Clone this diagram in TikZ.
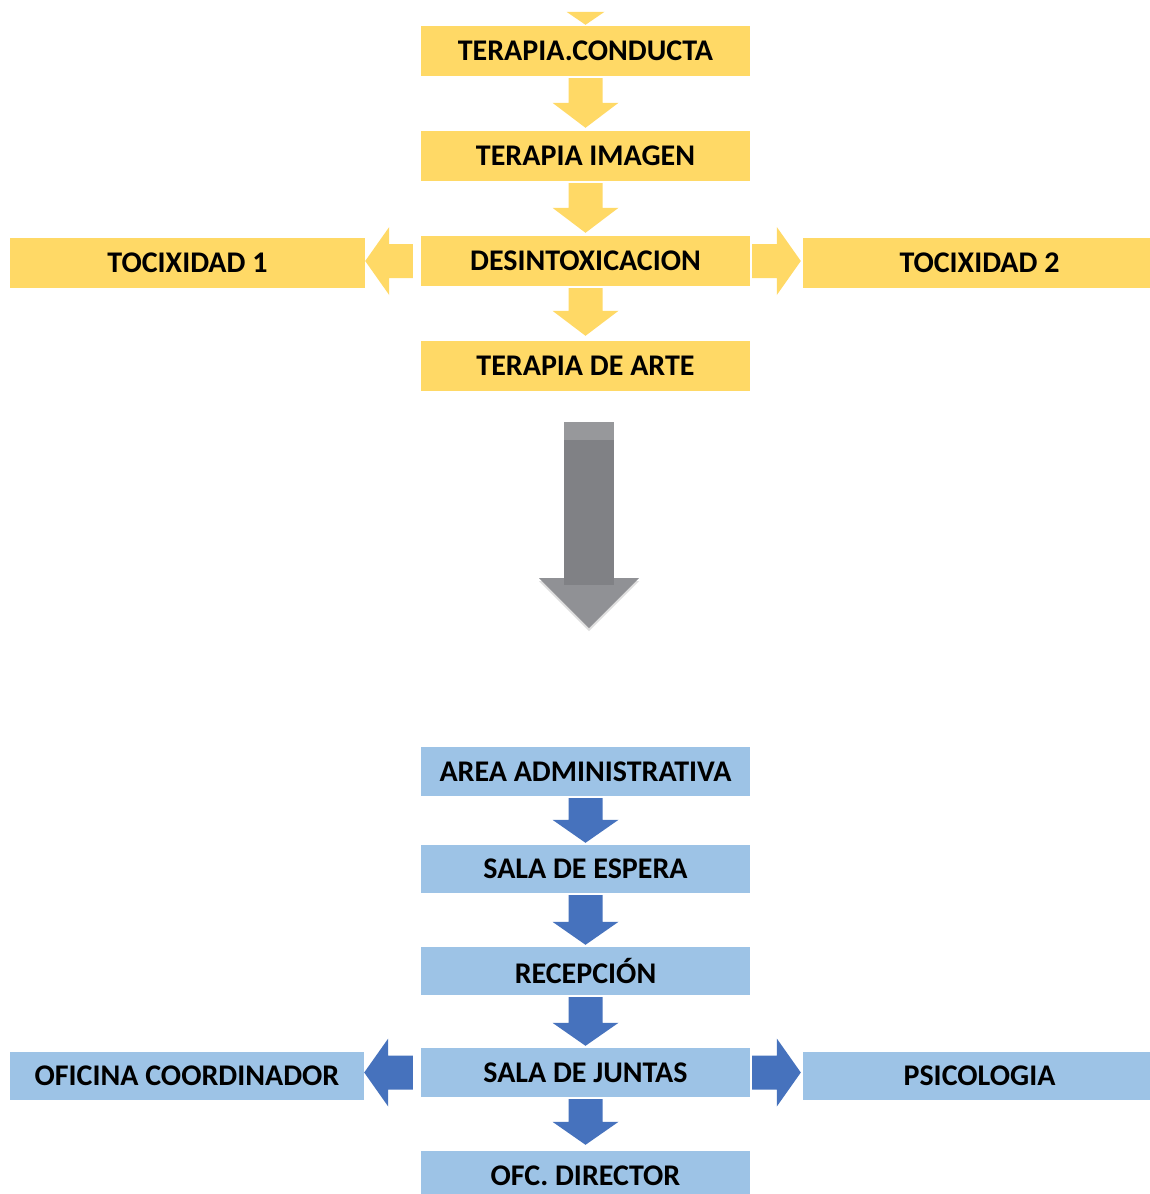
\documentclass[tikz,border=0pt]{standalone}
\usepackage{fontspec}
\setmainfont{Carlito}
\usetikzlibrary{calc,shadows}
\definecolor{ybox}{HTML}{FFD966}
\definecolor{bbox}{HTML}{9DC3E6}
\definecolor{barr}{HTML}{4672BD}
\definecolor{gshaft}{HTML}{808185}
\definecolor{gtop}{HTML}{97989B}
\definecolor{ghead}{HTML}{909195}
\tikzset{
  box/.style={rectangle, inner sep=0pt, minimum width=329pt, minimum height=50pt,
    font=\fontsize{30}{32}\selectfont\bfseries, text=black},
  ybx/.style={box, fill=ybox},
  bbx/.style={box, fill=bbox, minimum height=49pt},
}
% vertical block arrow: #1 from node, #2 to node, #3 colour, #4 head length, #5 tip gap
\newcommand\vblock[5]{%
  \fill[#3] ($(#1.south)+(-17,2)$) -- ($(#1.south)+(17,2)$) --
    ($(#2.north)+(17,-#4)$) -- ($(#2.north)+(33,-#4)$) --
    ($(#2.north)+(0,-#5)$) -- ($(#2.north)+(-33,-#4)$) --
    ($(#2.north)+(-17,-#4)$) -- cycle;}
% left block arrow from #1 (west) to #2 (east)
\newcommand\lblock[3]{%
  \fill[#3] ($(#1.west)+(-8,-17)$) -- ($(#1.west)+(-8,17)$) --
    ($(#2.east |- #1.west)+(24,17)$) -- ($(#2.east |- #1.west)+(24,34)$) --
    ($(#2.east |- #1.west)+(0,0)$) -- ($(#2.east |- #1.west)+(24,-34)$) --
    ($(#2.east |- #1.west)+(24,-17)$) -- cycle;}
% right block arrow from #1 (east) to #2 (west)
\newcommand\rblock[3]{%
  \fill[#3] ($(#1.east)+(2,-17)$) -- ($(#1.east)+(2,17)$) --
    ($(#2.west |- #1.east)+(-26,17)$) -- ($(#2.west |- #1.east)+(-26,34)$) --
    ($(#2.west |- #1.east)+(-2,0)$) -- ($(#2.west |- #1.east)+(-26,-34)$) --
    ($(#2.west |- #1.east)+(-26,-17)$) -- cycle;}
\begin{document}
\begin{tikzpicture}[x=1pt,y=-1pt]
\useasboundingbox[fill=white] (0,0) rectangle (1150,1194);
% yellow part
\node[ybx] (c1) at (585.5,51) {TERAPIA.CONDUCTA};
\node[ybx] (c2) at (585.5,156) {TERAPIA IMAGEN};
\node[ybx] (c3) at (585.5,261) {DESINTOXICACION};
\node[ybx] (c4) at (585.5,366) {TERAPIA DE ARTE};
\node[ybx, minimum width=355pt] (t1) at (187.5,263) {TOCIXIDAD 1};
\node[ybx, minimum width=347pt] (t2) at (976.5,263) {\hspace{6pt}TOCIXIDAD 2};
\fill[ybox] ($(c1.north)+(-19,-14)$) -- ($(c1.north)+(19,-14)$) -- ($(c1.north)+(0,-1)$) -- cycle;
\vblock{c1}{c2}{ybox}{28}{3}
\vblock{c2}{c3}{ybox}{28}{3}
\vblock{c3}{c4}{ybox}{30}{5}
\lblock{c3}{t1}{ybox}
\rblock{c3}{t2}{ybox}
% gray arrow
\coordinate (g) at ($(c4.south)+(3.5,0)$);
\fill[ghead, drop shadow={opacity=0.25, shadow xshift=0pt, shadow yshift=-3pt}]
  ($(g)+(-50,187)$) -- ($(g)+(50,187)$) -- ($(g)+(0,237)$) -- cycle;
\fill[gshaft] ($(g)+(-25,31)$) rectangle ($(g)+(25,194)$);
\fill[gtop] ($(g)+(-25,31)$) rectangle ($(g)+(25,49)$);
% blue part
\node[bbx] (b1) at (585.5,771.5) {AREA ADMINISTRATIVA};
\node[bbx, minimum height=48pt] (b2) at (585.5,869) {SALA DE ESPERA};
\node[bbx, minimum height=48pt] (b3) at (585.5,971) {RECEPCIÓN};
\node[bbx] (b4) at (585.5,1072.5) {SALA DE JUNTAS};
\node[bbx] (b5) at (585.5,1175.5) {OFC. DIRECTOR};
\node[bbx, minimum width=354pt, minimum height=48pt] (o1) at (187,1076) {OFICINA COORDINADOR};
\node[bbx, minimum width=347pt, minimum height=48pt] (o2) at (976.5,1076) {\hspace{6pt}PSICOLOGIA};
\vblock{b1}{b2}{barr}{25}{2}
\vblock{b2}{b3}{barr}{25}{2}
\vblock{b3}{b4}{barr}{25}{2}
\vblock{b4}{b5}{barr}{29}{6}
\lblock{b4}{o1}{barr}
\rblock{b4}{o2}{barr}
\end{tikzpicture}
\end{document}
